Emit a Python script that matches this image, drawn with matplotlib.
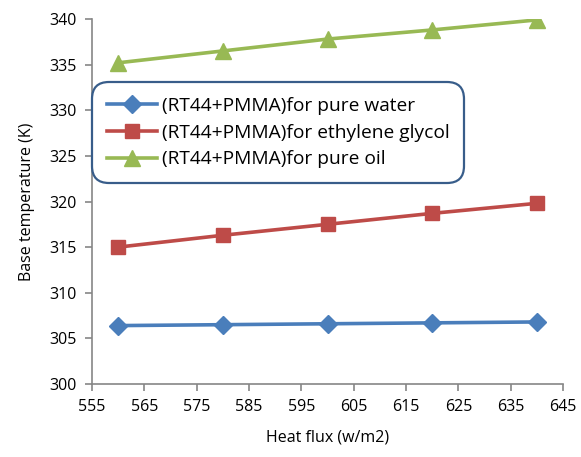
import matplotlib
matplotlib.use("Agg")
import matplotlib.pyplot as plt

heat_flux = [560, 580, 600, 620, 640]
water = [306.4, 306.5, 306.6, 306.7, 306.8]
glycol = [315.0, 316.3, 317.5, 318.7, 319.8]
oil = [335.2, 336.5, 337.8, 338.8, 339.9]

labels = ["(RT44+PMMA)for pure water",
          "(RT44+PMMA)for ethylene glycol",
          "(RT44+PMMA)for pure oil"]

BLUE = "#4a7ebb"
RED = "#be4b48"
GREEN = "#98b954"
AXIS = "#868686"

plt.rcParams["font.family"] = ["Open Sans", "DejaVu Sans"]

fig = plt.figure(figsize=(5.81, 4.57), dpi=100)
ax = fig.add_axes([92 / 581, 1 - 384 / 457, (563 - 92) / 581, (384 - 19) / 457])

ax.plot(heat_flux, water, color=BLUE, lw=2.6, marker="D", ms=9, label=labels[0])
ax.plot(heat_flux, glycol, color=RED, lw=2.6, marker="s", ms=10, label=labels[1])
ax.plot(heat_flux, oil, color=GREEN, lw=2.6, marker="^", ms=11, label=labels[2])

ax.set_xlim(555, 645)
ax.set_ylim(300, 340)
ax.set_xticks(range(555, 646, 10))
ax.set_yticks(range(300, 341, 5))
ax.tick_params(labelsize=11.5, color=AXIS, length=5, width=1.2, pad=6)
for side in ("top", "right"):
    ax.spines[side].set_visible(False)
for side in ("left", "bottom"):
    ax.spines[side].set_color(AXIS)
    ax.spines[side].set_linewidth(1.2)

ax.set_xlabel("Heat flux (w/m2)", fontsize=11.5, labelpad=10)
ax.set_ylabel("Base temperature (K)", fontsize=11.5, labelpad=10)

leg = ax.legend(loc="upper left", bbox_to_anchor=(0.0, 0.827), fontsize=13.8,
                frameon=True, fancybox=True, handlelength=2.6, handletextpad=0.25,
                borderpad=0.78, borderaxespad=0, labelspacing=0.45)
frame = leg.get_frame()
frame.set_edgecolor("#385d8a")
frame.set_linewidth(1.6)
frame.set_boxstyle("round,pad=0,rounding_size=0.9")
frame.set_alpha(1)

fig.savefig("out.png", dpi=100)
